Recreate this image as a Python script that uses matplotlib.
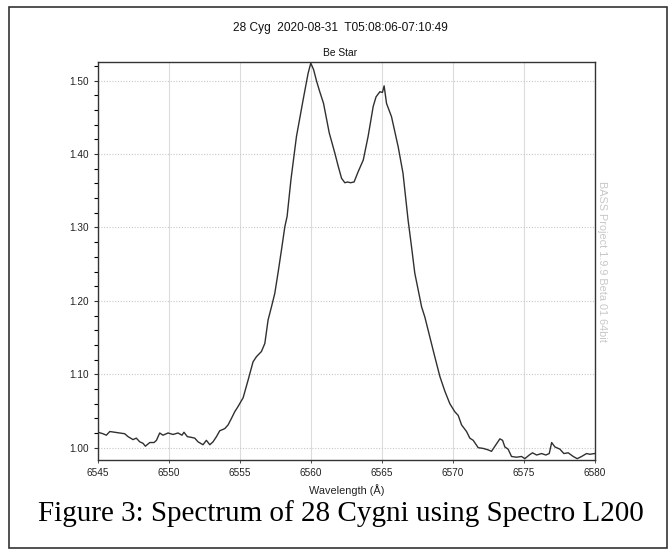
import matplotlib
matplotlib.use("Agg")
import matplotlib.pyplot as plt
from matplotlib.patches import Rectangle
from matplotlib.ticker import MultipleLocator
import numpy as np

# spectrum (wavelength in A, relative flux)
wavelength = [
    6545.00, 6545.35, 6545.59, 6545.83, 6546.18, 6546.53, 6546.88, 6547.12, 6547.47, 6547.70,
    6547.94, 6548.17, 6548.34, 6548.65, 6548.95, 6549.12, 6549.35, 6549.58, 6549.94, 6550.29,
    6550.64, 6550.92, 6551.06, 6551.30, 6551.59, 6551.82, 6552.05, 6552.40, 6552.64, 6552.88,
    6553.11, 6553.35, 6553.58, 6553.94, 6554.17, 6554.41, 6554.64, 6554.87, 6555.23, 6555.58,
    6555.93, 6556.17, 6556.52, 6556.76, 6556.99, 6557.23, 6557.46, 6557.69, 6557.93, 6558.17,
    6558.33, 6558.60, 6558.99, 6559.46, 6559.81, 6560.00, 6560.20, 6560.40, 6560.60, 6560.90,
    6561.30, 6561.70, 6561.94, 6562.17, 6562.40, 6562.60, 6562.80, 6563.05, 6563.34, 6563.70,
    6564.04, 6564.40, 6564.60, 6564.87, 6565.05, 6565.17, 6565.34, 6565.69, 6566.16, 6566.50,
    6566.86, 6567.10, 6567.33, 6567.57, 6567.81, 6568.04, 6568.39, 6568.74, 6569.10, 6569.45,
    6569.80, 6570.15, 6570.39, 6570.63, 6570.98, 6571.21, 6571.45, 6571.80, 6572.15, 6572.50,
    6572.74, 6573.05, 6573.33, 6573.52, 6573.68, 6573.91, 6574.15, 6574.50, 6574.86, 6575.09,
    6575.40, 6575.63, 6575.92, 6576.27, 6576.57, 6576.81, 6576.98, 6577.21, 6577.56, 6577.84,
    6578.15, 6578.50, 6578.78, 6579.09, 6579.44, 6579.68, 6580.00,
]
flux = [
    1.021, 1.019, 1.017, 1.022, 1.021, 1.020, 1.019, 1.015, 1.011, 1.013,
    1.008, 1.006, 1.002, 1.007, 1.007, 1.010, 1.020, 1.017, 1.020, 1.018,
    1.020, 1.017, 1.021, 1.015, 1.014, 1.013, 1.008, 1.004, 1.010, 1.004,
    1.008, 1.015, 1.023, 1.026, 1.031, 1.040, 1.049, 1.056, 1.068, 1.092,
    1.117, 1.124, 1.131, 1.142, 1.174, 1.192, 1.210, 1.238, 1.269, 1.301,
    1.315, 1.365, 1.424, 1.474, 1.510, 1.524, 1.515, 1.500, 1.487, 1.469,
    1.429, 1.401, 1.383, 1.367, 1.361, 1.362, 1.361, 1.362, 1.376, 1.392,
    1.424, 1.465, 1.478, 1.485, 1.484, 1.493, 1.469, 1.451, 1.410, 1.374,
    1.310, 1.274, 1.238, 1.215, 1.192, 1.178, 1.151, 1.124, 1.097, 1.077,
    1.060, 1.049, 1.044, 1.031, 1.022, 1.013, 1.010, 1.000, 0.999, 0.997,
    0.995, 1.004, 1.012, 1.010, 1.001, 0.998, 0.988, 0.987, 0.988, 0.985,
    0.990, 0.993, 0.990, 0.992, 0.990, 0.992, 1.007, 1.001, 0.998, 0.992,
    0.993, 0.988, 0.985, 0.988, 0.992, 0.991, 0.992,
]
x_ticks = [6545, 6550, 6555, 6560, 6565, 6570, 6575, 6580]
y_ticks = [1.00, 1.10, 1.20, 1.30, 1.40, 1.50]
y_labels = ["1.00", "1.10", "1.20", "1.30", "1.40", "1.50"]

fig = plt.figure(figsize=(6.72, 5.52), dpi=100)
W, H = 672, 552

# document frame around the whole figure
fig.patches.append(Rectangle((9 / W, 1 - 548 / H), 658 / W, (548 - 7) / H,
                             transform=fig.transFigure, fill=False,
                             edgecolor="#333333", linewidth=1.2))

ax = fig.add_axes([98 / W, 1 - 460 / H, (594.5 - 98) / W, (460 - 62) / H])
ax.plot(wavelength, flux, color="#303030", linewidth=1.0)

ax.set_xlim(6545, 6580)
ax.set_ylim(0.9832, 1.5255)
ax.set_xticks(x_ticks)
ax.set_xticklabels([str(t) for t in x_ticks])
ax.set_yticks(y_ticks)
ax.set_yticklabels(y_labels)
ax.yaxis.set_minor_locator(MultipleLocator(0.02))

ax.tick_params(axis="both", labelsize=7.2, colors="#333333", labelcolor="#222222")
ax.tick_params(axis="y", which="major", length=3, width=0.8)
ax.tick_params(axis="y", which="minor", length=3, width=0.8)
ax.tick_params(axis="x", length=2, width=0.6, pad=4)
for lab in ax.get_xticklabels() + ax.get_yticklabels():
    lab.set_family("Liberation Sans")

ax.grid(axis="x", color="#dcdcdc", linewidth=0.8, linestyle="-")
ax.grid(axis="y", color="#c8c8c8", linewidth=0.8, linestyle=(0, (1, 1.5)))
ax.set_axisbelow(True)
for sp in ax.spines.values():
    sp.set_color("#333333")
    sp.set_linewidth(1.0)

ax.set_xlabel("Wavelength (Å)", fontsize=7.8, family="Liberation Sans", color="#222222", labelpad=4)

fig.text(340 / W, 1 - 28 / H, "28 Cyg  2020-08-31  T05:08:06-07:10:49", ha="center", va="center",
         fontsize=8.6, family="Liberation Sans", color="#111111")
fig.text(340 / W, 1 - 53 / H, "Be Star", ha="center", va="center",
         fontsize=7.4, family="Liberation Sans", color="#111111")
fig.text(602 / W, 1 - 261 / H, "BASS Project 1.9.9 Beta 01 64bit", ha="center", va="center",
         rotation=-90, fontsize=7.8, family="Liberation Sans", color="#c8c8c8")
fig.text(341 / W, 1 - 514 / H, "Figure 3: Spectrum of 28 Cygni using Spectro L200", ha="center", va="center",
         fontsize=21, family="Liberation Serif", color="#000000")

fig.savefig("out.png", dpi=100)
